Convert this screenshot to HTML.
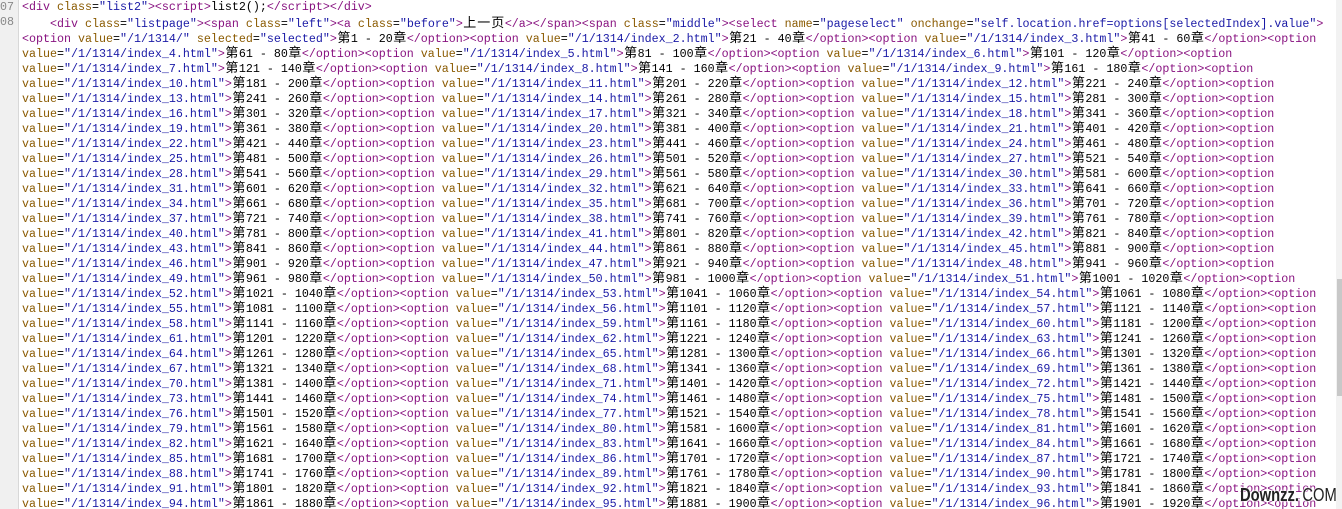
<!DOCTYPE html>
<html><head><meta charset="utf-8">
<style>
html,body{margin:0;padding:0;background:#fff;width:1342px;height:509px;overflow:hidden;position:relative}
#g{position:absolute;left:0;top:0;width:18px;height:509px;background:#f0f0f0;border-right:1px solid #d8d8d8}
.n{position:absolute;left:0;font:11.67px "Liberation Mono",monospace;color:#888;line-height:15px}
#c{position:absolute;left:22px;top:0;width:1314px;overflow:hidden}
.l{height:15px;line-height:15px;white-space:pre;font:11.67px/15px "Liberation Mono","Noto Sans CJK SC",monospace;color:#000}
s{text-decoration:none;color:#881280}
i{font-style:normal;color:#8a5a00}
em{font-style:normal;color:#1a1aa6}
b{display:inline-block;width:14px;font-weight:normal;font-family:"Noto Sans CJK SC","WenQuanYi Zen Hei",sans-serif;font-size:13px;line-height:13px;vertical-align:baseline;text-align:center}
#sb{position:absolute;left:1336px;top:0;width:6px;height:509px;background:#f2f2f2}
#th{position:absolute;left:1337px;top:279px;width:5px;height:117px;background:#c8c8c8}
#wm{position:absolute;left:1240px;top:485px;white-space:nowrap;font:bold 18px "Liberation Sans",sans-serif;color:#222;transform:scaleX(0.82);transform-origin:0 0;text-shadow:0 0 2px #fff,0 0 2px #fff,0 0 3px #fff}
#wm span{font-weight:normal;margin-left:4px}
</style></head><body>
<div id="g"></div>
<div class="n" style="top:0">07</div>
<div class="n" style="top:15px">08</div>
<div id="c">
<div class="l"><s>&lt;div</s> <i>class</i>=<em>"list2"</em><s>&gt;&lt;script&gt;</s>list2();<s>&lt;/script&gt;&lt;/div&gt;</s></div>
<div class="l">    <s>&lt;div</s> <i>class</i>=<em>"listpage"</em><s>&gt;&lt;span</s> <i>class</i>=<em>"left"</em><s>&gt;&lt;a</s> <i>class</i>=<em>"before"</em><s>&gt;</s><b>上</b><b>一</b><b>页</b><s>&lt;/a&gt;&lt;/span&gt;&lt;span</s> <i>class</i>=<em>"middle"</em><s>&gt;&lt;select</s> <i>name</i>=<em>"pageselect"</em> <i>onchange</i>=<em>"self.location.href=options[selectedIndex].value"</em><s>&gt;</s></div>
<div class="l"><s>&lt;option</s> <i>value</i>=<em>"/1/1314/"</em> <i>selected</i>=<em>"selected"</em><s>&gt;</s><b>第</b>1 - 20<b>章</b><s>&lt;/option&gt;&lt;option</s> <i>value</i>=<em>"/1/1314/index_2.html"</em><s>&gt;</s><b>第</b>21 - 40<b>章</b><s>&lt;/option&gt;&lt;option</s> <i>value</i>=<em>"/1/1314/index_3.html"</em><s>&gt;</s><b>第</b>41 - 60<b>章</b><s>&lt;/option&gt;&lt;option</s></div>
<div class="l"><i>value</i>=<em>"/1/1314/index_4.html"</em><s>&gt;</s><b>第</b>61 - 80<b>章</b><s>&lt;/option&gt;&lt;option</s> <i>value</i>=<em>"/1/1314/index_5.html"</em><s>&gt;</s><b>第</b>81 - 100<b>章</b><s>&lt;/option&gt;&lt;option</s> <i>value</i>=<em>"/1/1314/index_6.html"</em><s>&gt;</s><b>第</b>101 - 120<b>章</b><s>&lt;/option&gt;&lt;option</s></div>
<div class="l"><i>value</i>=<em>"/1/1314/index_7.html"</em><s>&gt;</s><b>第</b>121 - 140<b>章</b><s>&lt;/option&gt;&lt;option</s> <i>value</i>=<em>"/1/1314/index_8.html"</em><s>&gt;</s><b>第</b>141 - 160<b>章</b><s>&lt;/option&gt;&lt;option</s> <i>value</i>=<em>"/1/1314/index_9.html"</em><s>&gt;</s><b>第</b>161 - 180<b>章</b><s>&lt;/option&gt;&lt;option</s></div>
<div class="l"><i>value</i>=<em>"/1/1314/index_10.html"</em><s>&gt;</s><b>第</b>181 - 200<b>章</b><s>&lt;/option&gt;&lt;option</s> <i>value</i>=<em>"/1/1314/index_11.html"</em><s>&gt;</s><b>第</b>201 - 220<b>章</b><s>&lt;/option&gt;&lt;option</s> <i>value</i>=<em>"/1/1314/index_12.html"</em><s>&gt;</s><b>第</b>221 - 240<b>章</b><s>&lt;/option&gt;&lt;option</s></div>
<div class="l"><i>value</i>=<em>"/1/1314/index_13.html"</em><s>&gt;</s><b>第</b>241 - 260<b>章</b><s>&lt;/option&gt;&lt;option</s> <i>value</i>=<em>"/1/1314/index_14.html"</em><s>&gt;</s><b>第</b>261 - 280<b>章</b><s>&lt;/option&gt;&lt;option</s> <i>value</i>=<em>"/1/1314/index_15.html"</em><s>&gt;</s><b>第</b>281 - 300<b>章</b><s>&lt;/option&gt;&lt;option</s></div>
<div class="l"><i>value</i>=<em>"/1/1314/index_16.html"</em><s>&gt;</s><b>第</b>301 - 320<b>章</b><s>&lt;/option&gt;&lt;option</s> <i>value</i>=<em>"/1/1314/index_17.html"</em><s>&gt;</s><b>第</b>321 - 340<b>章</b><s>&lt;/option&gt;&lt;option</s> <i>value</i>=<em>"/1/1314/index_18.html"</em><s>&gt;</s><b>第</b>341 - 360<b>章</b><s>&lt;/option&gt;&lt;option</s></div>
<div class="l"><i>value</i>=<em>"/1/1314/index_19.html"</em><s>&gt;</s><b>第</b>361 - 380<b>章</b><s>&lt;/option&gt;&lt;option</s> <i>value</i>=<em>"/1/1314/index_20.html"</em><s>&gt;</s><b>第</b>381 - 400<b>章</b><s>&lt;/option&gt;&lt;option</s> <i>value</i>=<em>"/1/1314/index_21.html"</em><s>&gt;</s><b>第</b>401 - 420<b>章</b><s>&lt;/option&gt;&lt;option</s></div>
<div class="l"><i>value</i>=<em>"/1/1314/index_22.html"</em><s>&gt;</s><b>第</b>421 - 440<b>章</b><s>&lt;/option&gt;&lt;option</s> <i>value</i>=<em>"/1/1314/index_23.html"</em><s>&gt;</s><b>第</b>441 - 460<b>章</b><s>&lt;/option&gt;&lt;option</s> <i>value</i>=<em>"/1/1314/index_24.html"</em><s>&gt;</s><b>第</b>461 - 480<b>章</b><s>&lt;/option&gt;&lt;option</s></div>
<div class="l"><i>value</i>=<em>"/1/1314/index_25.html"</em><s>&gt;</s><b>第</b>481 - 500<b>章</b><s>&lt;/option&gt;&lt;option</s> <i>value</i>=<em>"/1/1314/index_26.html"</em><s>&gt;</s><b>第</b>501 - 520<b>章</b><s>&lt;/option&gt;&lt;option</s> <i>value</i>=<em>"/1/1314/index_27.html"</em><s>&gt;</s><b>第</b>521 - 540<b>章</b><s>&lt;/option&gt;&lt;option</s></div>
<div class="l"><i>value</i>=<em>"/1/1314/index_28.html"</em><s>&gt;</s><b>第</b>541 - 560<b>章</b><s>&lt;/option&gt;&lt;option</s> <i>value</i>=<em>"/1/1314/index_29.html"</em><s>&gt;</s><b>第</b>561 - 580<b>章</b><s>&lt;/option&gt;&lt;option</s> <i>value</i>=<em>"/1/1314/index_30.html"</em><s>&gt;</s><b>第</b>581 - 600<b>章</b><s>&lt;/option&gt;&lt;option</s></div>
<div class="l"><i>value</i>=<em>"/1/1314/index_31.html"</em><s>&gt;</s><b>第</b>601 - 620<b>章</b><s>&lt;/option&gt;&lt;option</s> <i>value</i>=<em>"/1/1314/index_32.html"</em><s>&gt;</s><b>第</b>621 - 640<b>章</b><s>&lt;/option&gt;&lt;option</s> <i>value</i>=<em>"/1/1314/index_33.html"</em><s>&gt;</s><b>第</b>641 - 660<b>章</b><s>&lt;/option&gt;&lt;option</s></div>
<div class="l"><i>value</i>=<em>"/1/1314/index_34.html"</em><s>&gt;</s><b>第</b>661 - 680<b>章</b><s>&lt;/option&gt;&lt;option</s> <i>value</i>=<em>"/1/1314/index_35.html"</em><s>&gt;</s><b>第</b>681 - 700<b>章</b><s>&lt;/option&gt;&lt;option</s> <i>value</i>=<em>"/1/1314/index_36.html"</em><s>&gt;</s><b>第</b>701 - 720<b>章</b><s>&lt;/option&gt;&lt;option</s></div>
<div class="l"><i>value</i>=<em>"/1/1314/index_37.html"</em><s>&gt;</s><b>第</b>721 - 740<b>章</b><s>&lt;/option&gt;&lt;option</s> <i>value</i>=<em>"/1/1314/index_38.html"</em><s>&gt;</s><b>第</b>741 - 760<b>章</b><s>&lt;/option&gt;&lt;option</s> <i>value</i>=<em>"/1/1314/index_39.html"</em><s>&gt;</s><b>第</b>761 - 780<b>章</b><s>&lt;/option&gt;&lt;option</s></div>
<div class="l"><i>value</i>=<em>"/1/1314/index_40.html"</em><s>&gt;</s><b>第</b>781 - 800<b>章</b><s>&lt;/option&gt;&lt;option</s> <i>value</i>=<em>"/1/1314/index_41.html"</em><s>&gt;</s><b>第</b>801 - 820<b>章</b><s>&lt;/option&gt;&lt;option</s> <i>value</i>=<em>"/1/1314/index_42.html"</em><s>&gt;</s><b>第</b>821 - 840<b>章</b><s>&lt;/option&gt;&lt;option</s></div>
<div class="l"><i>value</i>=<em>"/1/1314/index_43.html"</em><s>&gt;</s><b>第</b>841 - 860<b>章</b><s>&lt;/option&gt;&lt;option</s> <i>value</i>=<em>"/1/1314/index_44.html"</em><s>&gt;</s><b>第</b>861 - 880<b>章</b><s>&lt;/option&gt;&lt;option</s> <i>value</i>=<em>"/1/1314/index_45.html"</em><s>&gt;</s><b>第</b>881 - 900<b>章</b><s>&lt;/option&gt;&lt;option</s></div>
<div class="l"><i>value</i>=<em>"/1/1314/index_46.html"</em><s>&gt;</s><b>第</b>901 - 920<b>章</b><s>&lt;/option&gt;&lt;option</s> <i>value</i>=<em>"/1/1314/index_47.html"</em><s>&gt;</s><b>第</b>921 - 940<b>章</b><s>&lt;/option&gt;&lt;option</s> <i>value</i>=<em>"/1/1314/index_48.html"</em><s>&gt;</s><b>第</b>941 - 960<b>章</b><s>&lt;/option&gt;&lt;option</s></div>
<div class="l"><i>value</i>=<em>"/1/1314/index_49.html"</em><s>&gt;</s><b>第</b>961 - 980<b>章</b><s>&lt;/option&gt;&lt;option</s> <i>value</i>=<em>"/1/1314/index_50.html"</em><s>&gt;</s><b>第</b>981 - 1000<b>章</b><s>&lt;/option&gt;&lt;option</s> <i>value</i>=<em>"/1/1314/index_51.html"</em><s>&gt;</s><b>第</b>1001 - 1020<b>章</b><s>&lt;/option&gt;&lt;option</s></div>
<div class="l"><i>value</i>=<em>"/1/1314/index_52.html"</em><s>&gt;</s><b>第</b>1021 - 1040<b>章</b><s>&lt;/option&gt;&lt;option</s> <i>value</i>=<em>"/1/1314/index_53.html"</em><s>&gt;</s><b>第</b>1041 - 1060<b>章</b><s>&lt;/option&gt;&lt;option</s> <i>value</i>=<em>"/1/1314/index_54.html"</em><s>&gt;</s><b>第</b>1061 - 1080<b>章</b><s>&lt;/option&gt;&lt;option</s></div>
<div class="l"><i>value</i>=<em>"/1/1314/index_55.html"</em><s>&gt;</s><b>第</b>1081 - 1100<b>章</b><s>&lt;/option&gt;&lt;option</s> <i>value</i>=<em>"/1/1314/index_56.html"</em><s>&gt;</s><b>第</b>1101 - 1120<b>章</b><s>&lt;/option&gt;&lt;option</s> <i>value</i>=<em>"/1/1314/index_57.html"</em><s>&gt;</s><b>第</b>1121 - 1140<b>章</b><s>&lt;/option&gt;&lt;option</s></div>
<div class="l"><i>value</i>=<em>"/1/1314/index_58.html"</em><s>&gt;</s><b>第</b>1141 - 1160<b>章</b><s>&lt;/option&gt;&lt;option</s> <i>value</i>=<em>"/1/1314/index_59.html"</em><s>&gt;</s><b>第</b>1161 - 1180<b>章</b><s>&lt;/option&gt;&lt;option</s> <i>value</i>=<em>"/1/1314/index_60.html"</em><s>&gt;</s><b>第</b>1181 - 1200<b>章</b><s>&lt;/option&gt;&lt;option</s></div>
<div class="l"><i>value</i>=<em>"/1/1314/index_61.html"</em><s>&gt;</s><b>第</b>1201 - 1220<b>章</b><s>&lt;/option&gt;&lt;option</s> <i>value</i>=<em>"/1/1314/index_62.html"</em><s>&gt;</s><b>第</b>1221 - 1240<b>章</b><s>&lt;/option&gt;&lt;option</s> <i>value</i>=<em>"/1/1314/index_63.html"</em><s>&gt;</s><b>第</b>1241 - 1260<b>章</b><s>&lt;/option&gt;&lt;option</s></div>
<div class="l"><i>value</i>=<em>"/1/1314/index_64.html"</em><s>&gt;</s><b>第</b>1261 - 1280<b>章</b><s>&lt;/option&gt;&lt;option</s> <i>value</i>=<em>"/1/1314/index_65.html"</em><s>&gt;</s><b>第</b>1281 - 1300<b>章</b><s>&lt;/option&gt;&lt;option</s> <i>value</i>=<em>"/1/1314/index_66.html"</em><s>&gt;</s><b>第</b>1301 - 1320<b>章</b><s>&lt;/option&gt;&lt;option</s></div>
<div class="l"><i>value</i>=<em>"/1/1314/index_67.html"</em><s>&gt;</s><b>第</b>1321 - 1340<b>章</b><s>&lt;/option&gt;&lt;option</s> <i>value</i>=<em>"/1/1314/index_68.html"</em><s>&gt;</s><b>第</b>1341 - 1360<b>章</b><s>&lt;/option&gt;&lt;option</s> <i>value</i>=<em>"/1/1314/index_69.html"</em><s>&gt;</s><b>第</b>1361 - 1380<b>章</b><s>&lt;/option&gt;&lt;option</s></div>
<div class="l"><i>value</i>=<em>"/1/1314/index_70.html"</em><s>&gt;</s><b>第</b>1381 - 1400<b>章</b><s>&lt;/option&gt;&lt;option</s> <i>value</i>=<em>"/1/1314/index_71.html"</em><s>&gt;</s><b>第</b>1401 - 1420<b>章</b><s>&lt;/option&gt;&lt;option</s> <i>value</i>=<em>"/1/1314/index_72.html"</em><s>&gt;</s><b>第</b>1421 - 1440<b>章</b><s>&lt;/option&gt;&lt;option</s></div>
<div class="l"><i>value</i>=<em>"/1/1314/index_73.html"</em><s>&gt;</s><b>第</b>1441 - 1460<b>章</b><s>&lt;/option&gt;&lt;option</s> <i>value</i>=<em>"/1/1314/index_74.html"</em><s>&gt;</s><b>第</b>1461 - 1480<b>章</b><s>&lt;/option&gt;&lt;option</s> <i>value</i>=<em>"/1/1314/index_75.html"</em><s>&gt;</s><b>第</b>1481 - 1500<b>章</b><s>&lt;/option&gt;&lt;option</s></div>
<div class="l"><i>value</i>=<em>"/1/1314/index_76.html"</em><s>&gt;</s><b>第</b>1501 - 1520<b>章</b><s>&lt;/option&gt;&lt;option</s> <i>value</i>=<em>"/1/1314/index_77.html"</em><s>&gt;</s><b>第</b>1521 - 1540<b>章</b><s>&lt;/option&gt;&lt;option</s> <i>value</i>=<em>"/1/1314/index_78.html"</em><s>&gt;</s><b>第</b>1541 - 1560<b>章</b><s>&lt;/option&gt;&lt;option</s></div>
<div class="l"><i>value</i>=<em>"/1/1314/index_79.html"</em><s>&gt;</s><b>第</b>1561 - 1580<b>章</b><s>&lt;/option&gt;&lt;option</s> <i>value</i>=<em>"/1/1314/index_80.html"</em><s>&gt;</s><b>第</b>1581 - 1600<b>章</b><s>&lt;/option&gt;&lt;option</s> <i>value</i>=<em>"/1/1314/index_81.html"</em><s>&gt;</s><b>第</b>1601 - 1620<b>章</b><s>&lt;/option&gt;&lt;option</s></div>
<div class="l"><i>value</i>=<em>"/1/1314/index_82.html"</em><s>&gt;</s><b>第</b>1621 - 1640<b>章</b><s>&lt;/option&gt;&lt;option</s> <i>value</i>=<em>"/1/1314/index_83.html"</em><s>&gt;</s><b>第</b>1641 - 1660<b>章</b><s>&lt;/option&gt;&lt;option</s> <i>value</i>=<em>"/1/1314/index_84.html"</em><s>&gt;</s><b>第</b>1661 - 1680<b>章</b><s>&lt;/option&gt;&lt;option</s></div>
<div class="l"><i>value</i>=<em>"/1/1314/index_85.html"</em><s>&gt;</s><b>第</b>1681 - 1700<b>章</b><s>&lt;/option&gt;&lt;option</s> <i>value</i>=<em>"/1/1314/index_86.html"</em><s>&gt;</s><b>第</b>1701 - 1720<b>章</b><s>&lt;/option&gt;&lt;option</s> <i>value</i>=<em>"/1/1314/index_87.html"</em><s>&gt;</s><b>第</b>1721 - 1740<b>章</b><s>&lt;/option&gt;&lt;option</s></div>
<div class="l"><i>value</i>=<em>"/1/1314/index_88.html"</em><s>&gt;</s><b>第</b>1741 - 1760<b>章</b><s>&lt;/option&gt;&lt;option</s> <i>value</i>=<em>"/1/1314/index_89.html"</em><s>&gt;</s><b>第</b>1761 - 1780<b>章</b><s>&lt;/option&gt;&lt;option</s> <i>value</i>=<em>"/1/1314/index_90.html"</em><s>&gt;</s><b>第</b>1781 - 1800<b>章</b><s>&lt;/option&gt;&lt;option</s></div>
<div class="l"><i>value</i>=<em>"/1/1314/index_91.html"</em><s>&gt;</s><b>第</b>1801 - 1820<b>章</b><s>&lt;/option&gt;&lt;option</s> <i>value</i>=<em>"/1/1314/index_92.html"</em><s>&gt;</s><b>第</b>1821 - 1840<b>章</b><s>&lt;/option&gt;&lt;option</s> <i>value</i>=<em>"/1/1314/index_93.html"</em><s>&gt;</s><b>第</b>1841 - 1860<b>章</b><s>&lt;/option&gt;&lt;option</s></div>
<div class="l"><i>value</i>=<em>"/1/1314/index_94.html"</em><s>&gt;</s><b>第</b>1861 - 1880<b>章</b><s>&lt;/option&gt;&lt;option</s> <i>value</i>=<em>"/1/1314/index_95.html"</em><s>&gt;</s><b>第</b>1881 - 1900<b>章</b><s>&lt;/option&gt;&lt;option</s> <i>value</i>=<em>"/1/1314/index_96.html"</em><s>&gt;</s><b>第</b>1901 - 1920<b>章</b><s>&lt;/option&gt;&lt;option</s></div>
</div>
<div id="sb"></div><div id="th"></div>
<div id="wm">Downzz.<span>COM</span></div>
</body></html>
